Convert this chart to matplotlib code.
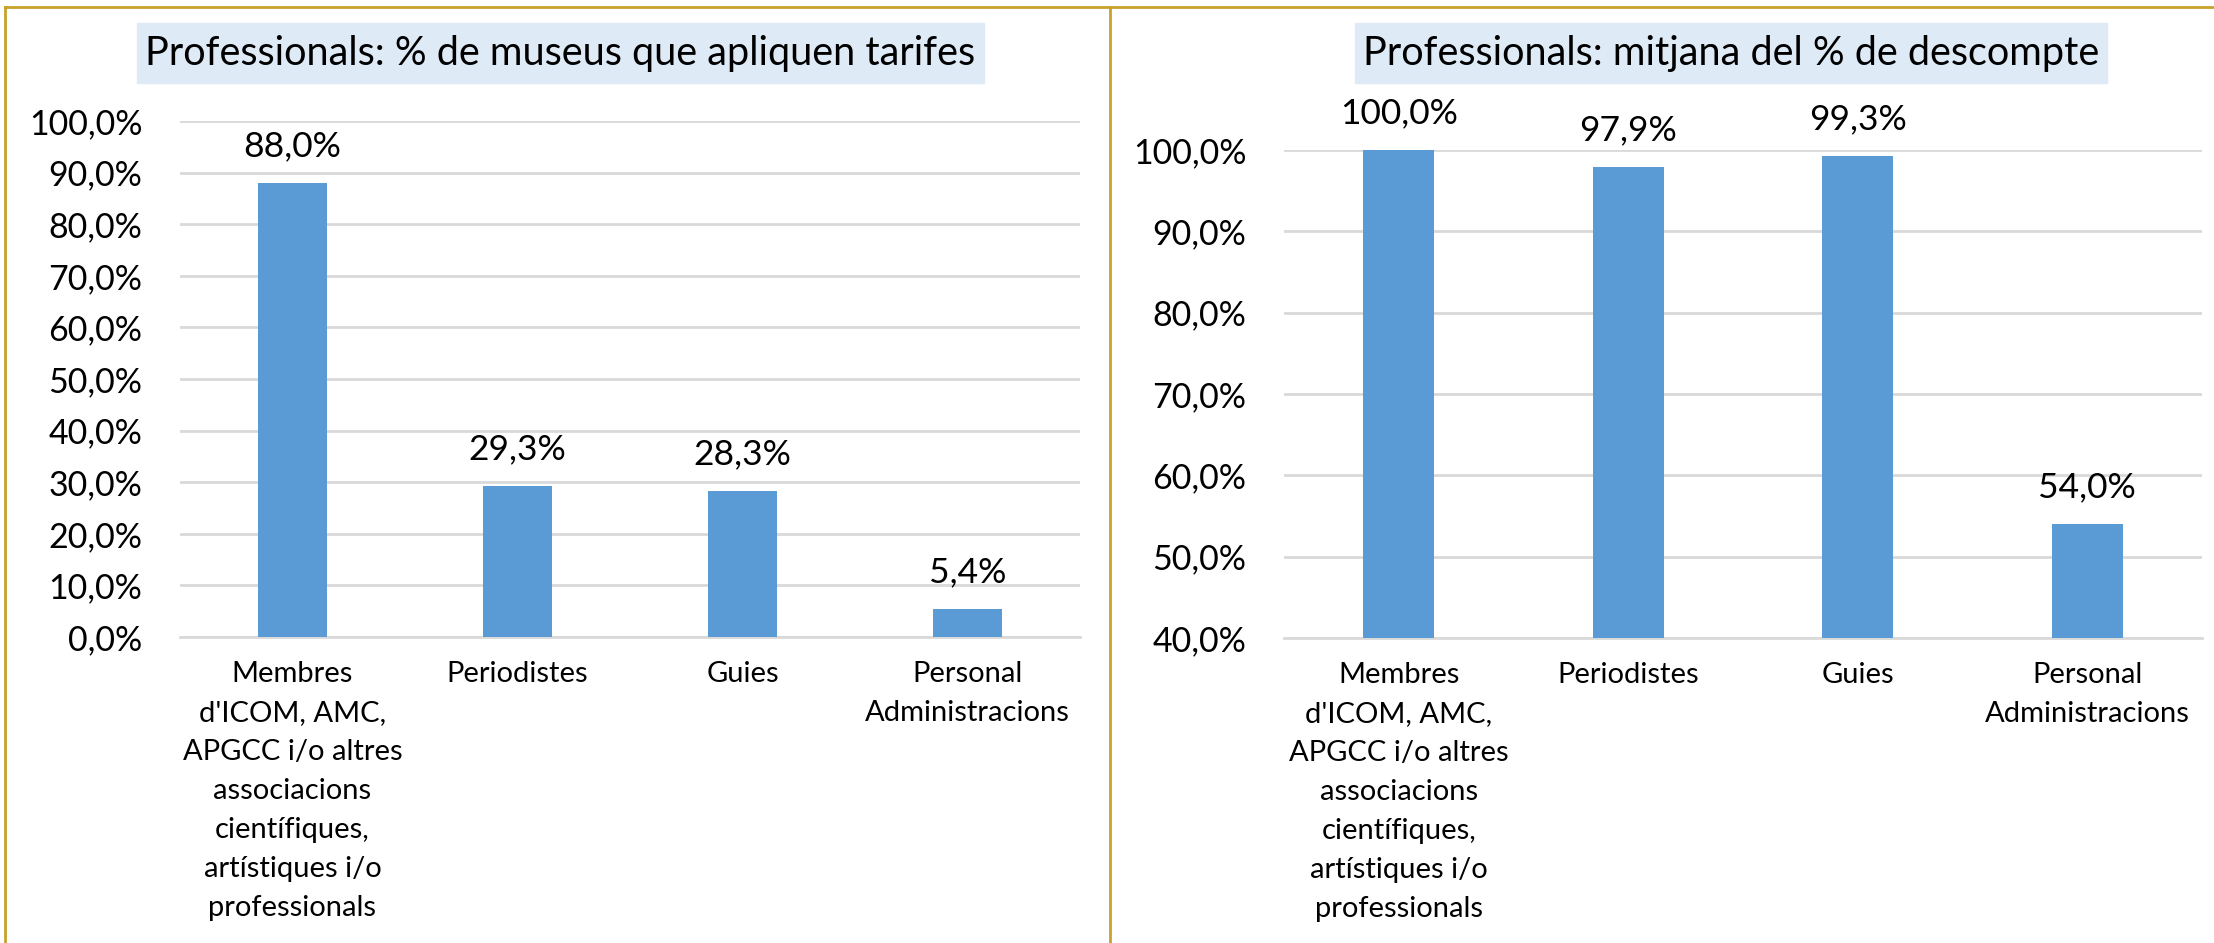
import matplotlib.pyplot as plt
from matplotlib.lines import Line2D
from matplotlib.patches import Rectangle
from matplotlib.ticker import FuncFormatter, MultipleLocator

plt.rcParams['font.family'] = ['Lato', 'DejaVu Sans']

# dades
categories = ["Membres\nd'ICOM, AMC,\nAPGCC i/o altres\nassociacions\ncientífiques,\nartístiques i/o\nprofessionals",
              "Periodistes", "Guies", "Personal\nAdministracions"]
tarifes = [88.0, 29.3, 28.3, 5.4]
descompte = [100.0, 97.9, 99.3, 54.0]
title_left = "Professionals: % de museus que apliquen tarifes"
title_right = "Professionals: mitjana del % de descompte"

W, H = 2214, 943
bar_color = '#5B9BD5'
grid_color = '#D9D9D9'
box_color = '#DEEAF6'
border_color = '#C9A22C'

fig = plt.figure(figsize=(W / 100, H / 100), dpi=100)


def px_axes(x0, y_top, x1, y_bot):
    return fig.add_axes([x0 / W, 1 - y_bot / H, (x1 - x0) / W, (y_bot - y_top) / H])


def pct(v, pos=None):
    return f"{v:.1f}%".replace('.', ',')


def draw_panel(ax, values, ymin, ymax, step):
    x = range(len(values))
    bars = ax.bar(x, values, width=0.31, color=bar_color, zorder=3)
    ax.set_xlim(-0.5, len(values) - 0.5)
    ax.set_ylim(ymin, ymax)
    ax.yaxis.set_major_locator(MultipleLocator(step))
    ax.yaxis.set_major_formatter(FuncFormatter(pct))
    ax.grid(axis='y', color=grid_color, linewidth=2, zorder=0)
    for s in ['top', 'right', 'left']:
        ax.spines[s].set_visible(False)
    ax.spines['bottom'].set_color(grid_color)
    ax.spines['bottom'].set_linewidth(2)
    ax.tick_params(axis='y', length=0, labelsize=24.5, pad=27)
    ax.tick_params(axis='x', length=0, labelsize=21, pad=17)
    ax.set_xticks(list(x))
    ax.set_xticklabels(categories, linespacing=1.62, va='top')
    for b, v in zip(bars, values):
        ax.annotate(pct(v), (b.get_x() + b.get_width() / 2, v), xytext=(0, 15),
                    textcoords='offset points', ha='center', va='bottom',
                    fontsize=25.5, annotation_clip=False)


ax1 = px_axes(180, 121, 1080, 637)
draw_panel(ax1, tarifes, 0, 100, 10)

ax2 = px_axes(1284, 150, 2202, 638)
draw_panel(ax2, descompte, 40, 100, 10)

# títols amb fons blau clar
for (x0, x1), title in [((137, 984), title_left), ((1355, 2107), title_right)]:
    fig.add_artist(Rectangle((x0 / W, 1 - 83 / H), (x1 - x0) / W, 60 / H,
                             transform=fig.transFigure, color=box_color, zorder=1))
    fig.text((x0 + x1) / 2 / W, 1 - 54 / H, title, ha='center', va='center',
             fontsize=28.5, zorder=2)

# vores dels gràfics
for xs, ys in [([5, W], [7, 7]), ([5, 5], [7, H]), ([1110, 1110], [7, H])]:
    fig.add_artist(Line2D([v / W for v in xs], [1 - v / H for v in ys],
                          transform=fig.transFigure, color=border_color, linewidth=2))

fig.savefig('out.png', dpi=100)
